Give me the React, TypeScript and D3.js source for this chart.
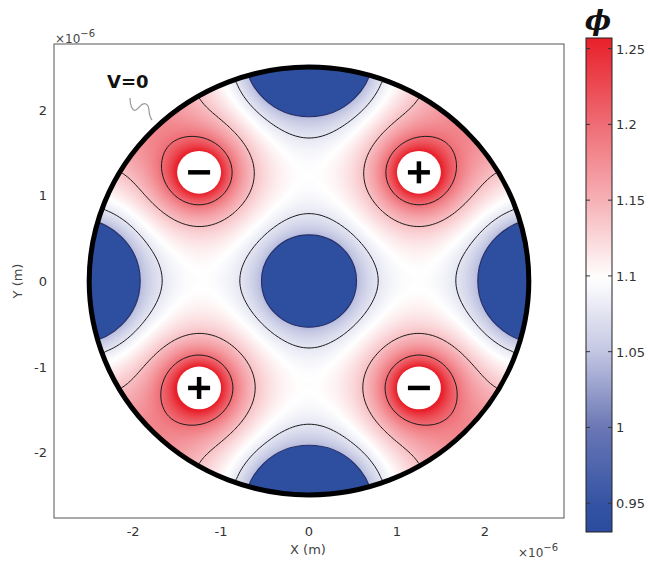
import React, { useMemo } from "react";
import * as d3 from "d3";

const W = 648;
const H = 561;
const xDomain = [-2.9, 2.9];
const yDomain = [-2.77, 2.77];
const xTicks = [-2, -1, 0, 1, 2];
const yTicks = [-2, -1, 0, 1, 2];
const cbTicks = [0.95, 1, 1.05, 1.1, 1.15, 1.2, 1.25];
const cbDomain = [0.931, 1.257];
const colorStops = [0.931, 0.95, 1.0, 1.05, 1.098, 1.15, 1.2, 1.257];
const colorRange = ["#2a4b9e", "#3553a4", "#6a77b5", "#c3c6e2", "#ffffff", "#f6b1b6", "#ef6c74", "#e8202a"];

const domainRadius = 2.5;
const electrodeX = [-1.25, 1.25, -1.25, 1.25];
const electrodeY = [1.27, 1.27, -1.25, -1.25];
const electrodeSign = ["-", "+", "+", "-"];
const holeRadius = 0.25;
const sourceRadius = 0.16;
const electrodePhi = 1.335;
const diskX = [0, 0, 0, -2.65, 2.65];
const diskY = [0, 2.65, -2.65, 0, 0];
const diskR = [0.54, 0.73, 0.73, 0.73, 0.73];
const diskPhi = 1.04;
const bulkPhi = 1.1;
const screening = 1.8;
const contourLevels = [1.077, 1.14, 1.2];

const xScale = d3.scaleLinear().domain(xDomain).range([54, 564]);
const yScale = d3.scaleLinear().domain(yDomain).range([518, 44]);
const cbScale = d3.scaleLinear().domain(cbDomain).range([532, 38]);
const colorScale = d3
  .scaleLinear<string>()
  .domain(colorStops)
  .range(colorRange)
  .interpolate(d3.interpolateRgb)
  .clamp(true);

function solveField() {
  const h = 0.03125;
  const x0 = -2.625;
  const y0 = 2.625;
  const N = Math.round(5.25 / h) + 1;
  const phi = new Float64Array(N * N).fill(bulkPhi);
  const type = new Uint8Array(N * N);
  const R2 = domainRadius * domainRadius;
  for (let j = 0; j < N; j++) {
    for (let i = 0; i < N; i++) {
      const x = x0 + i * h;
      const y = y0 - j * h;
      const idx = j * N + i;
      if (x * x + y * y > R2) {
        type[idx] = 0;
        continue;
      }
      type[idx] = 1;
      for (let e = 0; e < electrodeX.length; e++) {
        if (Math.hypot(x - electrodeX[e], y - electrodeY[e]) < sourceRadius) {
          type[idx] = 2;
          phi[idx] = electrodePhi;
        }
      }
      for (let d = 0; d < diskX.length; d++) {
        if (Math.hypot(x - diskX[d], y - diskY[d]) < diskR[d]) {
          type[idx] = 2;
          phi[idx] = diskPhi;
        }
      }
    }
  }
  const c = h * h * screening * screening;
  const omega = 1.92;
  for (let it = 0; it < 1000; it++) {
    for (let j = 1; j < N - 1; j++) {
      for (let i = 1; i < N - 1; i++) {
        const idx = j * N + i;
        if (type[idx] !== 1) continue;
        let s = 0;
        let k = 0;
        if (type[idx - 1] !== 0) { s += phi[idx - 1]; k++; }
        if (type[idx + 1] !== 0) { s += phi[idx + 1]; k++; }
        if (type[idx - N] !== 0) { s += phi[idx - N]; k++; }
        if (type[idx + N] !== 0) { s += phi[idx + N]; k++; }
        const v = (s + c * bulkPhi) / (k + c);
        phi[idx] += omega * (v - phi[idx]);
      }
    }
  }
  const filled = new Uint8Array(N * N);
  for (let idx = 0; idx < N * N; idx++) filled[idx] = type[idx] !== 0 ? 1 : 0;
  for (let pass = 0; pass < 10; pass++) {
    const upd: [number, number][] = [];
    for (let j = 0; j < N; j++) {
      for (let i = 0; i < N; i++) {
        const idx = j * N + i;
        if (filled[idx]) continue;
        let s = 0;
        let k = 0;
        if (i > 0 && filled[idx - 1]) { s += phi[idx - 1]; k++; }
        if (i < N - 1 && filled[idx + 1]) { s += phi[idx + 1]; k++; }
        if (j > 0 && filled[idx - N]) { s += phi[idx - N]; k++; }
        if (j < N - 1 && filled[idx + N]) { s += phi[idx + N]; k++; }
        if (k > 0) upd.push([idx, s / k]);
      }
    }
    for (const [idx, v] of upd) {
      phi[idx] = v;
      filled[idx] = 1;
    }
  }
  for (let idx = 0; idx < N * N; idx++) if (!filled[idx]) phi[idx] = bulkPhi;
  return { N, h, x0, y0, phi };
}

export default function App() {
  const field = useMemo(() => solveField(), []);

  const imageHref = useMemo(() => {
    const { N, h, x0, y0, phi } = field;
    const canvas = document.createElement("canvas");
    canvas.width = W;
    canvas.height = H;
    const ctx = canvas.getContext("2d");
    if (!ctx) return "";
    const img = ctx.createImageData(W, H);
    const lut: number[][] = [];
    const LN = 600;
    for (let k = 0; k <= LN; k++) {
      const v = cbDomain[0] + ((cbDomain[1] - cbDomain[0]) * k) / LN;
      const col = d3.rgb(colorScale(v));
      lut.push([col.r, col.g, col.b]);
    }
    const R2 = (domainRadius + 0.03) * (domainRadius + 0.03);
    for (let py = 40; py < 525; py++) {
      for (let px = 50; px < 570; px++) {
        const x = xScale.invert(px + 0.5);
        const y = yScale.invert(py + 0.5);
        if (x * x + y * y > R2) continue;
        const gx = (x - x0) / h;
        const gy = (y0 - y) / h;
        const i = Math.floor(gx);
        const j = Math.floor(gy);
        const fx = gx - i;
        const fy = gy - j;
        const v00 = phi[j * N + i];
        const v10 = phi[j * N + i + 1];
        const v01 = phi[(j + 1) * N + i];
        const v11 = phi[(j + 1) * N + i + 1];
        const v = v00 * (1 - fx) * (1 - fy) + v10 * fx * (1 - fy) + v01 * (1 - fx) * fy + v11 * fx * fy;
        let k = Math.round(((v - cbDomain[0]) / (cbDomain[1] - cbDomain[0])) * LN);
        k = Math.max(0, Math.min(LN, k));
        const o = (py * W + px) * 4;
        img.data[o] = lut[k][0];
        img.data[o + 1] = lut[k][1];
        img.data[o + 2] = lut[k][2];
        img.data[o + 3] = 255;
      }
    }
    ctx.putImageData(img, 0, 0);
    return canvas.toDataURL();
  }, [field]);

  const contourPaths = useMemo(() => {
    const { N, h, x0, y0, phi } = field;
    const gen = d3.contours().size([N, N]).thresholds(contourLevels);
    const polys = gen(Array.from(phi));
    const proj = d3.geoTransform({
      point(x: number, y: number) {
        (this as any).stream.point(xScale(x0 + (x - 0.5) * h), yScale(y0 - (y - 0.5) * h));
      },
    });
    const path = d3.geoPath(proj as any);
    return polys.map((p) => path(p as any) || "");
  }, [field]);

  const cx = xScale(0);
  const cy = yScale(0);
  const rx = xScale(domainRadius) - xScale(0);
  const ry = yScale(0) - yScale(domainRadius);
  const sx = xScale(1) - xScale(0);
  const sy = yScale(0) - yScale(1);

  const gradStops = d3.range(0, 61).map((k) => {
    const v = cbDomain[0] + ((cbDomain[1] - cbDomain[0]) * k) / 60;
    return { offset: (k / 60) * 100, color: colorScale(v) };
  });

  const font = "'DejaVu Sans', Verdana, sans-serif";
  const cbX = 586;
  const cbW = 26;

  return (
    <svg width={W} height={H} style={{ position: "absolute", left: 0, top: 0, background: "#fff" }}>
      <defs>
        <clipPath id="dom">
          <ellipse cx={cx} cy={cy} rx={rx} ry={ry} />
        </clipPath>
        <linearGradient id="cbg" x1="0" y1="1" x2="0" y2="0">
          {gradStops.map((s, i) => (
            <stop key={i} offset={`${s.offset}%`} stopColor={s.color} />
          ))}
        </linearGradient>
      </defs>
      <rect x={54} y={44} width={510} height={474} fill="#fff" stroke="#555" strokeWidth={1} />
      <image href={imageHref} x={0} y={0} width={W} height={H} clipPath="url(#dom)" />
      <g clipPath="url(#dom)">
        {diskX.map((dx, i) => (
          <ellipse
            key={i}
            cx={xScale(dx)}
            cy={yScale(diskY[i])}
            rx={diskR[i] * sx}
            ry={diskR[i] * sy}
            fill="#2e4f9f"
            stroke="#28306a"
            strokeWidth={1.2}
          />
        ))}
        {contourPaths.map((d, i) => (
          <path key={i} d={d} fill="none" stroke="#1a1a1a" strokeWidth={1} />
        ))}
        {electrodeX.map((ex, i) => (
          <ellipse key={i} cx={xScale(ex)} cy={yScale(electrodeY[i])} rx={holeRadius * sx} ry={holeRadius * sy} fill="#fff" />
        ))}
      </g>
      <ellipse cx={cx} cy={cy} rx={rx} ry={ry} fill="none" stroke="#000" strokeWidth={5} />
      {electrodeX.map((ex, i) => {
        const px = xScale(ex);
        const py = yScale(electrodeY[i]);
        return (
          <g key={i} stroke="#000" strokeWidth={4.5}>
            <line x1={px - 11} x2={px + 11} y1={py} y2={py} />
            {electrodeSign[i] === "+" && <line x1={px} x2={px} y1={py - 11} y2={py + 11} />}
          </g>
        );
      })}
      <text x={107} y={88} fontFamily={font} fontWeight="bold" fontSize={18} fill="#111">V=0</text>
      <path d="M130,98 C130,104 132,112 136,110 C140,108 141,102 146,104 C151,106 147,114 152,120" fill="none" stroke="#999" strokeWidth={1.2} />
      {xTicks.map((t) => (
        <text key={t} x={xScale(t)} y={536} textAnchor="middle" fontFamily={font} fontSize={13} fill="#333">
          {t < 0 ? `-${-t}` : t}
        </text>
      ))}
      {yTicks.map((t) => (
        <text key={t} x={47} y={yScale(t) + 5} textAnchor="end" fontFamily={font} fontSize={13} fill="#333">
          {t < 0 ? `-${-t}` : t}
        </text>
      ))}
      <text x={308} y={554} textAnchor="middle" fontFamily={font} fontSize={13} fill="#444">X (m)</text>
      <text transform={`translate(22,${yScale(0)}) rotate(-90)`} textAnchor="middle" fontFamily={font} fontSize={13} fill="#444">Y (m)</text>
      <text x={55} y={43} fontFamily={font} fontSize={12} fill="#444">
        ×10<tspan dy={-6} fontSize={10}>−6</tspan>
      </text>
      <text x={518} y={557} fontFamily={font} fontSize={12} fill="#444">
        ×10<tspan dy={-6} fontSize={10}>−6</tspan>
      </text>
      <rect x={cbX} y={cbScale(cbDomain[1])} width={cbW} height={cbScale(cbDomain[0]) - cbScale(cbDomain[1])} fill="url(#cbg)" stroke="#222" strokeWidth={1} />
      {cbTicks.map((t) => (
        <g key={t}>
          <line x1={cbX} x2={cbX + 4} y1={cbScale(t)} y2={cbScale(t)} stroke="#333" strokeWidth={1} />
          <line x1={cbX + cbW - 4} x2={cbX + cbW} y1={cbScale(t)} y2={cbScale(t)} stroke="#333" strokeWidth={1} />
          <text x={cbX + cbW + 4} y={cbScale(t) + 5} fontFamily={font} fontSize={13} fill="#333">{t}</text>
        </g>
      ))}
      <text x={598} y={30} textAnchor="middle" fontFamily="'DejaVu Serif', serif" fontStyle="italic" fontWeight="bold" fontSize={28} fill="#111">ϕ</text>
    </svg>
  );
}
